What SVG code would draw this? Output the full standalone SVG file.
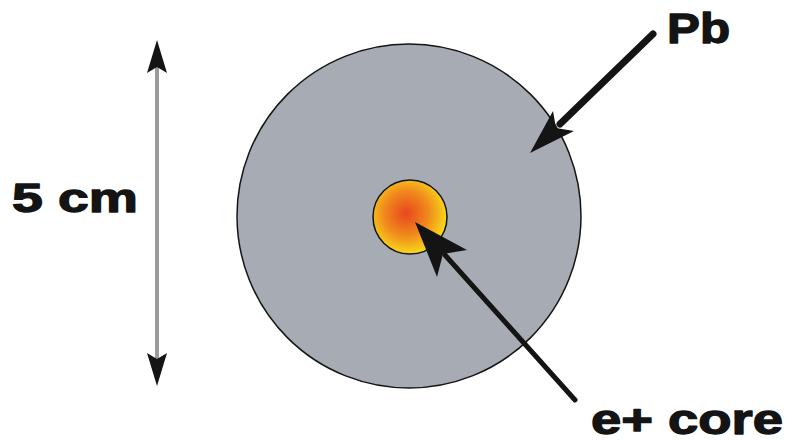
<svg xmlns="http://www.w3.org/2000/svg" width="787" height="442" viewBox="0 0 787 442">
<style>
.lbl{font-family:"Liberation Sans",Arial,sans-serif;font-weight:bold;fill:#141414;stroke:#141414;stroke-width:1.3;stroke-linejoin:round}
.ink{fill:#141414}
</style>
<defs>
<radialGradient id="core" cx="0.45" cy="0.45" r="0.55">
<stop offset="0" stop-color="#e8461f"/>
<stop offset="0.55" stop-color="#f08a1c"/>
<stop offset="1" stop-color="#f8d81a"/>
</radialGradient>
</defs>
<rect width="787" height="442" fill="#ffffff"/>
<g id="pb">
<circle cx="409" cy="216" r="172" fill="#a6abb4" stroke="#141414" stroke-width="1.5"/>
</g>
<g id="core-node">
<circle cx="410" cy="217" r="37" fill="url(#core)" stroke="#141414" stroke-width="1.5"/>
</g>
<g id="connectors">
<line x1="157" y1="65" x2="157" y2="360" stroke="#9a9a9a" stroke-width="4"/>
<polygon class="ink" points="157,40 167,73 157,67 147,73"/>
<polygon class="ink" points="157,386 167,353 157,359 147,353"/>
<line x1="653" y1="34" x2="560" y2="124" stroke="#141414" stroke-width="7" stroke-linecap="round"/>
<polygon class="ink" points="530,153 553,111 556,128 574,131"/>
<line x1="575" y1="400" x2="445" y2="255" stroke="#141414" stroke-width="5" stroke-linecap="round"/>
<polygon class="ink" points="415,222 467,250 443,254 437,277"/>
</g>
<g id="labels">
<text class="lbl" x="12" y="212" font-size="40" textLength="126" lengthAdjust="spacingAndGlyphs">5 cm</text>
<text class="lbl" x="667" y="43" font-size="42" textLength="63" lengthAdjust="spacingAndGlyphs">Pb</text>
<text class="lbl" x="591" y="434" font-size="42" textLength="192" lengthAdjust="spacingAndGlyphs">e+ core</text>
</g>
</svg>
